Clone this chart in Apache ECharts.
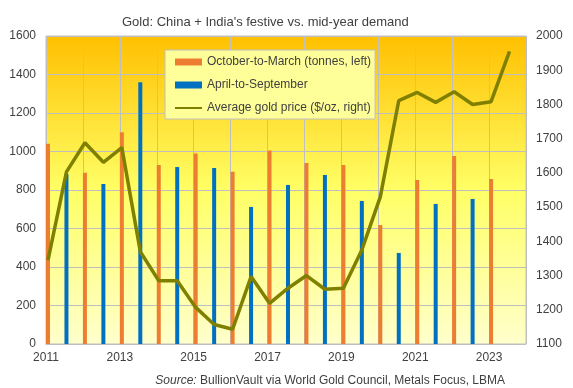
<!DOCTYPE html>
<html><head><meta charset="utf-8">
<script src="https://cdn.jsdelivr.net/npm/echarts@6/dist/echarts.min.js"></script>
<style>html,body{margin:0;padding:0;background:#fff}#c{width:573px;height:388px}</style>
</head><body><div id="c"></div>
<script>
// October-to-March (festive) demand, tonnes — plotted at the start of each year
const octMarYears = [2011, 2012, 2013, 2014, 2015, 2016, 2017, 2018, 2019, 2020, 2021, 2022, 2023];
const octMar = [1040, 890, 1100, 930, 990, 895, 1005, 940, 930, 618, 852, 977, 857];
// April-to-September (mid-year) demand, tonnes
const aprSepYears = [2011.5, 2012.5, 2013.5, 2014.5, 2015.5, 2016.5, 2017.5, 2018.5, 2019.5, 2020.5, 2021.5, 2022.5];
const aprSep = [883, 831, 1360, 919, 914, 712, 826, 878, 743, 473, 727, 753];
// Average gold price, $/oz, per half-year period
const priceDates = [2011, 2011.5, 2012, 2012.5, 2013, 2013.5, 2014, 2014.5, 2015, 2015.5, 2016, 2016.5, 2017, 2017.5, 2018, 2018.5, 2019, 2019.5, 2020, 2020.5, 2021, 2021.5, 2022, 2022.5, 2023, 2023.5];
const price = [1345, 1603, 1688, 1631, 1674, 1370, 1285, 1285, 1207, 1157, 1143, 1297, 1219, 1263, 1300, 1260, 1263, 1375, 1530, 1811, 1835, 1806, 1837, 1800, 1808, 1955];
// Axis ticks
const leftTicks = {min: 0, max: 1600, interval: 200};
const rightTicks = {min: 1100, max: 2000, interval: 100};
const xTicks = {min: 2011, max: 2024, interval: 1};

const FONT = '"Liberation Sans", Arial, sans-serif';
const TXT = '#404040';
const GRIDC = '#BFBFBF';
const shift = 0.054; // ~2px offset of marks from the year gridlines

const chart = echarts.init(document.getElementById('c'), null, {renderer: 'canvas'});
chart.setOption({
  animation: false,
  textStyle: {fontFamily: FONT},
  title: [
    {text: "Gold: China + India's festive vs. mid-year demand", left: 117, top: 11,
     textStyle: {fontSize: 13, fontWeight: 'normal', color: TXT, fontFamily: FONT}},
    {text: '{i|Source:} BullionVault via World Gold Council, Metals Focus, LBMA', right: 63, top: 370,
     textStyle: {fontSize: 12, fontWeight: 'normal', color: TXT, fontFamily: FONT,
       rich: {i: {fontStyle: 'italic', fontSize: 12, color: TXT, fontFamily: FONT}}}}
  ],
  legend: {
    orient: 'vertical', left: 165, top: 50,
    backgroundColor: '#FFFF99', borderColor: GRIDC, borderWidth: 1, borderRadius: 0,
    padding: [6, 4, 5, 9], itemGap: 11, itemWidth: 27, itemHeight: 7, itemTextGap: 3,
    textStyle: {fontSize: 12, color: TXT, fontFamily: FONT},
    data: [
      {name: 'October-to-March (tonnes, left)', icon: 'rect'},
      {name: 'April-to-September', icon: 'rect'},
      {name: 'Average gold price ($/oz, right)', itemStyle: {opacity: 0}}
    ]
  },
  grid: {
    left: 46, right: 47, top: 36, bottom: 44, show: true,
    borderColor: GRIDC, borderWidth: 1,
    backgroundColor: new echarts.graphic.LinearGradient(0, 0, 0, 1, [
      {offset: 0, color: '#FFC000'},
      {offset: 0.5, color: '#FFFF66'},
      {offset: 1, color: '#FFFFCC'}
    ])
  },
  xAxis: [
    {type: 'value', min: xTicks.min, max: xTicks.max, interval: xTicks.interval,
     axisLine: {show: true, lineStyle: {color: GRIDC}}, axisTick: {show: false},
     splitLine: {show: true, lineStyle: {color: GRIDC}},
     axisLabel: {color: TXT, fontSize: 12, margin: 8, fontFamily: FONT,
       formatter: v => (v % 2 === 1 ? String(v) : '')}},
    {type: 'value', min: xTicks.min - shift, max: xTicks.max - shift, show: false}
  ],
  yAxis: [
    {type: 'value', min: leftTicks.min, max: leftTicks.max, interval: leftTicks.interval,
     axisLine: {show: false}, axisTick: {show: false},
     splitLine: {show: true, lineStyle: {color: GRIDC}},
     axisLabel: {color: TXT, fontSize: 12, margin: 10, fontFamily: FONT, formatter: v => String(v)}},
    {type: 'value', position: 'right', min: rightTicks.min, max: rightTicks.max, interval: rightTicks.interval,
     axisLine: {show: false}, axisTick: {show: false}, splitLine: {show: false},
     axisLabel: {color: TXT, fontSize: 12, margin: 10, fontFamily: FONT, formatter: v => String(v)}}
  ],
  series: [
    {name: 'October-to-March (tonnes, left)', type: 'bar', xAxisIndex: 1, yAxisIndex: 0,
     barWidth: 4, barGap: '-100%', itemStyle: {color: '#ED7D31'},
     data: octMarYears.map((y, i) => [y, octMar[i]])},
    {name: 'April-to-September', type: 'bar', xAxisIndex: 1, yAxisIndex: 0,
     barWidth: 4, barGap: '-100%', itemStyle: {color: '#0070C0'},
     data: aprSepYears.map((y, i) => [y, aprSep[i]])},
    {name: 'Average gold price ($/oz, right)', type: 'line', xAxisIndex: 1, yAxisIndex: 1,
     symbol: 'none', z: 5, lineStyle: {color: '#808000', width: 3.5}, itemStyle: {color: '#808000'},
     data: priceDates.map((d, i) => [d, price[i]])}
  ]
});
</script>
</body></html>
